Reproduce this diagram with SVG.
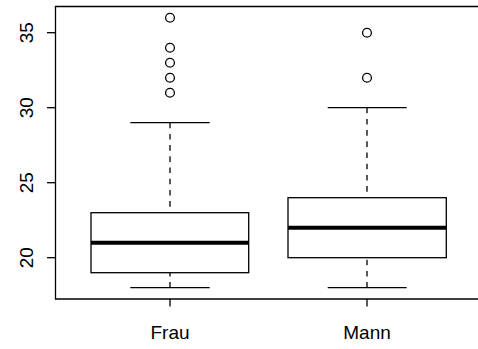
<svg xmlns="http://www.w3.org/2000/svg" width="478" height="349" viewBox="0 0 478 349">
<style>
.ln{stroke:#000;stroke-width:1.3;fill:none}
.box{stroke:#000;stroke-width:1.3;fill:#fff}
.med{stroke:#000;stroke-width:4;fill:none}
.wh{stroke:#000;stroke-width:1.3;stroke-dasharray:5.6 5.6;fill:none}
.out{stroke:#000;stroke-width:1.3;fill:none}
.t{font-family:"Liberation Sans",Arial,sans-serif;font-size:19px;fill:#000;text-anchor:middle}
</style>
<rect width="478" height="349" fill="#fff"/>
<g id="frame">
<polyline class="ln" points="490,6.5 55.5,6.5 55.5,299 490,299"/>
</g>
<g id="y-axis">
<g class="ln">
<line x1="47" y1="32.7" x2="55.5" y2="32.7"/>
<line x1="47" y1="107.7" x2="55.5" y2="107.7"/>
<line x1="47" y1="182.7" x2="55.5" y2="182.7"/>
<line x1="47" y1="257.7" x2="55.5" y2="257.7"/>
</g>
<text class="t" transform="translate(33,32.7) rotate(-90)">35</text>
<text class="t" transform="translate(33,107.7) rotate(-90)">30</text>
<text class="t" transform="translate(33,182.7) rotate(-90)">25</text>
<text class="t" transform="translate(33,257.7) rotate(-90)">20</text>
</g>
<g id="x-axis">
<line class="ln" x1="170" y1="299" x2="170" y2="306.5"/>
<line class="ln" x1="367" y1="299" x2="367" y2="306.5"/>
<text class="t" x="170" y="339">Frau</text>
<text class="t" x="367" y="339">Mann</text>
</g>
<g id="connectors">
<line class="wh" x1="170" y1="122.7" x2="170" y2="212.7"/>
<line class="wh" x1="170" y1="287.7" x2="170" y2="272.7"/>
<line class="wh" x1="367" y1="107.7" x2="367" y2="197.7"/>
<line class="wh" x1="367" y1="287.7" x2="367" y2="257.7"/>
</g>
<g id="frau">
<line class="ln" x1="130.3" y1="122.7" x2="209.7" y2="122.7"/>
<line class="ln" x1="130.3" y1="287.7" x2="209.7" y2="287.7"/>
<rect class="box" x="91" y="212.7" width="157.7" height="60"/>
<line class="med" x1="91" y1="242.7" x2="248.7" y2="242.7"/>
<circle class="out" cx="170" cy="17.7" r="4.4"/>
<circle class="out" cx="170" cy="47.7" r="4.4"/>
<circle class="out" cx="170" cy="62.7" r="4.4"/>
<circle class="out" cx="170" cy="77.7" r="4.4"/>
<circle class="out" cx="170" cy="92.7" r="4.4"/>
</g>
<g id="mann">
<line class="ln" x1="327.7" y1="107.7" x2="406.7" y2="107.7"/>
<line class="ln" x1="327.7" y1="287.7" x2="406.7" y2="287.7"/>
<rect class="box" x="288" y="197.7" width="158.3" height="60"/>
<line class="med" x1="288" y1="227.7" x2="446.3" y2="227.7"/>
<circle class="out" cx="367" cy="32.7" r="4.4"/>
<circle class="out" cx="367" cy="77.7" r="4.4"/>
</g>
</svg>
